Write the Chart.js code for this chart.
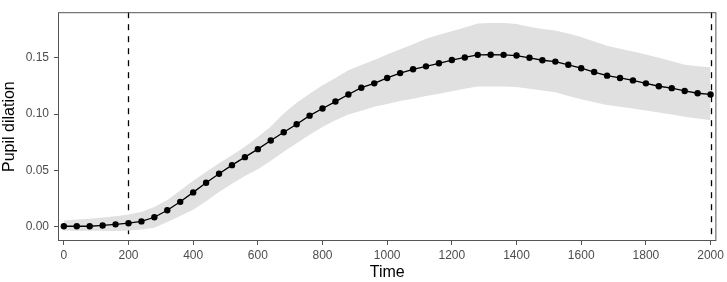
<!DOCTYPE html>
<html lang="en">
<head>
  <meta charset="UTF-8">
  <title>Pupil dilation over time</title>
  <script src="https://cdn.jsdelivr.net/npm/chart.js"></script>
  <style>
    html, body { margin: 0; padding: 0; background: #ffffff; }
    #wrap { width: 727px; height: 282px; position: relative; }
  </style>
</head>
<body>
  <div id="wrap"><canvas id="pupilChart"></canvas></div>

  <script>
    // Time bins (ms)
    const times = [0, 40, 80, 120, 160, 200, 240, 280, 320, 360, 400, 440, 480, 520, 560, 600, 640,
      680, 720, 760, 800, 840, 880, 920, 960, 1000, 1040, 1080, 1120, 1160, 1200, 1240, 1280,
      1320, 1360, 1400, 1440, 1480, 1520, 1560, 1600, 1640, 1680, 1720, 1760, 1800, 1840, 1880,
      1920, 1960, 2000];

    // Mean pupil dilation
    const meanDilation = [0.0003, 0.0003, 0.0003, 0.0010, 0.0020, 0.0030, 0.0046, 0.0083, 0.0145,
      0.0220, 0.0304, 0.0390, 0.0470, 0.0546, 0.0617, 0.0688, 0.0765, 0.0838, 0.0910, 0.0986,
      0.1049, 0.1111, 0.1174, 0.1234, 0.1273, 0.1321, 0.1364, 0.1398, 0.1424, 0.1451, 0.1480,
      0.1503, 0.1526, 0.1527, 0.1526, 0.1520, 0.1500, 0.1478, 0.1466, 0.1438, 0.1407, 0.1373,
      0.1341, 0.1321, 0.1299, 0.1273, 0.1247, 0.1230, 0.1205, 0.1185, 0.1174];

    // Confidence band
    const upperBand = [0.0055, 0.0062, 0.0070, 0.0080, 0.0092, 0.0108, 0.0130, 0.0175, 0.0236,
      0.0320, 0.0407, 0.0485, 0.0563, 0.0635, 0.0710, 0.0795, 0.0890, 0.1005, 0.1100, 0.1180,
      0.1255, 0.1320, 0.1390, 0.1435, 0.1480, 0.1529, 0.1575, 0.1620, 0.1670, 0.1705, 0.1735,
      0.1770, 0.1805, 0.1810, 0.1810, 0.1800, 0.1775, 0.1755, 0.1742, 0.1715, 0.1685, 0.1645,
      0.1608, 0.1580, 0.1555, 0.1529, 0.1500, 0.1470, 0.1438, 0.1425, 0.1415];
    const lowerBand = [-0.0035, -0.0036, -0.0037, -0.0038, -0.0039, -0.0035, -0.0025, -0.0010, 0.0040,
      0.0095, 0.0150, 0.0225, 0.0307, 0.0380, 0.0450, 0.0510, 0.0585, 0.0665, 0.0740, 0.0815,
      0.0885, 0.0945, 0.0995, 0.1030, 0.1065, 0.1090, 0.1115, 0.1137, 0.1160, 0.1180, 0.1202,
      0.1225, 0.1245, 0.1245, 0.1245, 0.1240, 0.1225, 0.1210, 0.1194, 0.1160, 0.1131, 0.1105,
      0.1080, 0.1065, 0.1050, 0.1032, 0.1013, 0.0995, 0.0975, 0.0960, 0.0946];

    // Axis ticks and marker lines
    const xTicks = [0, 200, 400, 600, 800, 1000, 1200, 1400, 1600, 1800, 2000];
    const yTicks = [0, 0.05, 0.10, 0.15];
    const markerTimes = [200, 2000];

    const toPoints = vals => vals.map((v, i) => ({ x: times[i], y: v }));

    // Border around panel + dashed markers
    const panelPlugin = {
      id: 'panel',
      beforeDatasetsDraw(chart) {
        const { ctx, chartArea: a, scales } = chart;
        ctx.save();
        ctx.strokeStyle = '#000';
        ctx.lineWidth = 1.3;
        ctx.setLineDash([6, 6]);
        markerTimes.forEach(t => {
          const px = Math.round(scales.x.getPixelForValue(t)) + 0.5;
          ctx.beginPath();
          ctx.moveTo(px, a.top);
          ctx.lineTo(px, a.bottom);
          ctx.stroke();
        });
        ctx.restore();
      },
      afterDraw(chart) {
        const { ctx, chartArea: a } = chart;
        ctx.save();
        ctx.strokeStyle = '#555';
        ctx.lineWidth = 1;
        ctx.strokeRect(a.left + 0.5, a.top + 0.5, a.right - a.left - 1, a.bottom - a.top - 1);
        ctx.restore();
      }
    };

    const tickFont = { family: "'Liberation Sans', Arial, sans-serif", size: 12 };
    const titleFont = { family: "'Liberation Sans', Arial, sans-serif", size: 16 };

    new Chart(document.getElementById('pupilChart'), {
      type: 'line',
      data: {
        datasets: [
          {
            label: 'mean',
            data: toPoints(meanDilation),
            borderColor: '#000',
            backgroundColor: '#000',
            borderWidth: 1.3,
            pointRadius: 3.2,
            pointBorderWidth: 0,
            tension: 0,
            fill: false,
            order: 0
          },
          {
            label: 'upper',
            data: toPoints(upperBand),
            borderWidth: 0,
            pointRadius: 0,
            backgroundColor: '#e0e0e0',
            fill: '+1',
            order: 2
          },
          {
            label: 'lower',
            data: toPoints(lowerBand),
            borderWidth: 0,
            pointRadius: 0,
            fill: false,
            order: 3
          }
        ]
      },
      options: {
        responsive: true,
        maintainAspectRatio: false,
        animation: false,
        layout: { padding: { top: 2, right: 10, left: 0, bottom: 0 } },
        plugins: { legend: { display: false }, tooltip: { enabled: false } },
        scales: {
          x: {
            type: 'linear',
            min: -18,
            max: 2018,
            afterBuildTicks: s => { s.ticks = xTicks.map(v => ({ value: v })); },
            afterFit: s => { s.height = 41; },
            grid: { drawOnChartArea: false, tickLength: 4, color: '#555' },
            border: { display: false },
            ticks: { color: '#4d4d4d', font: tickFont, padding: 3, maxRotation: 0,
              callback: v => String(v) },
            title: { display: true, text: 'Time', color: '#000', font: titleFont,
              padding: { top: 0, bottom: 0 } }
          },
          y: {
            min: -0.0128,
            max: 0.1905,
            afterBuildTicks: s => { s.ticks = yTicks.map(v => ({ value: v })); },
            afterFit: s => { s.width = 58; },
            grid: { drawOnChartArea: false, tickLength: 4, color: '#555' },
            border: { display: false },
            ticks: { color: '#4d4d4d', font: tickFont, padding: 5,
              callback: v => v.toFixed(2) },
            title: { display: true, text: 'Pupil dilation', color: '#000', font: titleFont,
              padding: { top: 0, bottom: 0 } }
          }
        }
      },
      plugins: [panelPlugin]
    });
  </script>
</body>
</html>
